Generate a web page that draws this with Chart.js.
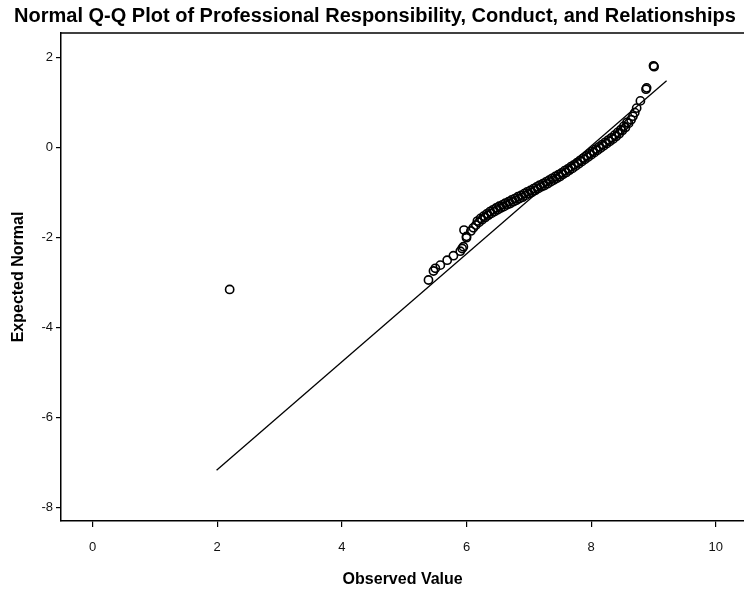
<!DOCTYPE html>
<html lang="en">
<head>
    <meta charset="UTF-8">
    <title>Normal Q-Q Plot</title>
    <script src="https://cdn.jsdelivr.net/npm/chart.js"></script>
    <style>
        body { margin: 0; background: white; overflow: hidden; }
        .grafica { width: 750px; height: 590px; }
    </style>
</head>
<body>
    <div class="grafica">
        <canvas id="myChart"></canvas>
    </div>
    <script>
        // datos
        const observed = [2.20,
            5.39, 5.47, 5.50, 5.58, 5.69, 5.79, 5.90, 5.93, 5.95, 5.96, 6.00, 6.00,
            6.07, 6.11, 6.15, 6.20, 6.25, 6.30, 6.35, 6.40, 6.45, 6.50, 6.55,
            6.60, 6.65, 6.70, 6.75, 6.80, 6.85, 6.90, 6.95, 7.00, 7.05, 7.10,
            7.15, 7.20, 7.25, 7.30, 7.35, 7.40, 7.45, 7.50, 7.55, 7.60, 7.65,
            7.70, 7.75, 7.80, 7.85, 7.90, 7.95, 8.00, 8.05, 8.10, 8.15, 8.20,
            8.25, 8.30, 8.35, 8.40, 8.45, 8.50, 8.55, 8.60, 8.64, 8.67, 8.70,
            8.73, 8.79, 8.88, 8.89, 9.00, 9.01];
        const expected = [-3.15,
            -2.94, -2.74, -2.68, -2.61, -2.50, -2.40, -2.30, -2.24, -2.20, -1.83, -2.00, -1.97,
            -1.85, -1.78, -1.72, -1.66, -1.60, -1.55, -1.50, -1.46, -1.42, -1.38, -1.34,
            -1.31, -1.27, -1.24, -1.20, -1.17, -1.13, -1.10, -1.06, -1.02, -0.99, -0.95,
            -0.91, -0.87, -0.84, -0.80, -0.76, -0.72, -0.68, -0.64, -0.59, -0.55, -0.50,
            -0.46, -0.41, -0.36, -0.31, -0.26, -0.21, -0.16, -0.11, -0.06, -0.01, 0.04,
            0.09, 0.14, 0.19, 0.25, 0.31, 0.38, 0.45, 0.54, 0.62, 0.70, 0.78,
            0.88, 1.04, 1.30, 1.33, 1.82, 1.80];

        // borde superior de la banda densa
        const observedUpper = [6.175, 6.225, 6.275, 6.325, 6.375, 6.425, 6.475, 6.525,
            6.575, 6.625, 6.675, 6.725, 6.775, 6.825, 6.875, 6.925, 6.975, 7.025,
            7.075, 7.125, 7.175, 7.225, 7.275, 7.325, 7.375, 7.425, 7.475, 7.525,
            7.575, 7.625, 7.675, 7.725, 7.775, 7.825, 7.875, 7.925, 7.975, 8.025,
            8.075, 8.125, 8.175, 8.225, 8.275, 8.325, 8.375, 8.425, 8.475, 8.525, 8.575];
        const expectedUpper = [-1.63, -1.57, -1.52, -1.47, -1.42, -1.38, -1.34, -1.30,
            -1.27, -1.23, -1.20, -1.16, -1.13, -1.09, -1.06, -1.02, -0.98, -0.95,
            -0.91, -0.87, -0.83, -0.80, -0.76, -0.72, -0.68, -0.64, -0.60, -0.56,
            -0.51, -0.47, -0.42, -0.38, -0.33, -0.28, -0.23, -0.18, -0.13, -0.08,
            -0.03, 0.02, 0.07, 0.12, 0.17, 0.22, 0.28, 0.34, 0.40, 0.48, 0.56];

        // recta de referencia (extremos)
        const lineX = [1.99, 9.21];
        const lineY = [-7.17, 1.49];

        const xTicks = [0, 2, 4, 6, 8, 10];
        const yTicks = [2, 0, -2, -4, -6, -8];

        const fuente = 'Liberation Sans, Arial, sans-serif';

        // linea superior del marco
        const bordeSuperior = {
            id: 'bordeSuperior',
            afterDraw(chart) {
                const {ctx, chartArea} = chart;
                ctx.save();
                ctx.strokeStyle = '#000';
                ctx.lineWidth = 1.5;
                ctx.beginPath();
                ctx.moveTo(chartArea.left, chartArea.top);
                ctx.lineTo(chartArea.right + 10, chartArea.top);
                ctx.stroke();
                ctx.restore();
            }
        };

        function confGrafica() {
            const puntos = observed.map((x, i) => ({x: x, y: expected[i]}))
                .concat(observedUpper.map((x, i) => ({x: x, y: expectedUpper[i]})));
            const recta = lineX.map((x, i) => ({x: x, y: lineY[i]}));
            return {
                type: 'scatter',
                data: {
                    datasets: [{
                        label: 'Observed',
                        data: puntos,
                        pointStyle: 'circle',
                        pointRadius: 4.1,
                        pointBorderWidth: 1.6,
                        borderColor: '#000',
                        backgroundColor: 'rgba(0,0,0,0)'
                    }, {
                        type: 'line',
                        label: 'Reference',
                        data: recta,
                        borderColor: '#000',
                        borderWidth: 1.3,
                        pointRadius: 0,
                        fill: false
                    }]
                },
                options: {
                    responsive: true,
                    maintainAspectRatio: false,
                    animation: false,
                    layout: { padding: 0 },
                    plugins: {
                        legend: { display: false },
                        tooltip: { enabled: false },
                        title: {
                            display: true,
                            text: 'Normal Q-Q Plot of Professional Responsibility, Conduct, and Relationships',
                            color: '#000',
                            font: { family: fuente, size: 20, weight: 'bold' },
                            padding: { top: 4, bottom: 5 }
                        }
                    },
                    scales: {
                        x: {
                            type: 'linear',
                            min: -0.506,
                            max: 10.457,
                            afterBuildTicks: (axis) => { axis.ticks = xTicks.map(v => ({value: v})); },
                            afterFit: (s) => { s.height = 69; },
                            border: { display: true, color: '#000', width: 1.5 },
                            grid: { drawOnChartArea: false, drawTicks: true, tickLength: 6, color: '#000', lineWidth: 1.2 },
                            ticks: { color: '#111', font: { family: fuente, size: 13 }, padding: 13 },
                            title: {
                                display: true,
                                text: 'Observed Value',
                                color: '#000',
                                font: { family: fuente, size: 16, weight: 'bold' },
                                padding: { top: 0, bottom: 1 }
                            }
                        },
                        y: {
                            type: 'linear',
                            min: -8.296,
                            max: 2.549,
                            afterBuildTicks: (axis) => { axis.ticks = yTicks.map(v => ({value: v})); },
                            afterFit: (s) => { s.width = 61; },
                            border: { display: true, color: '#000', width: 1.5 },
                            grid: { drawOnChartArea: false, drawTicks: true, tickLength: 5, color: '#000', lineWidth: 1.2 },
                            ticks: { color: '#111', font: { family: fuente, size: 13 }, padding: 3 },
                            title: {
                                display: true,
                                text: 'Expected Normal',
                                color: '#000',
                                font: { family: fuente, size: 16, weight: 'bold' },
                                padding: { top: 9, bottom: 0 }
                            }
                        }
                    }
                },
                plugins: [bordeSuperior]
            };
        }

        function renderGrafica() {
            const chartDOM = document.getElementById('myChart');
            new Chart(chartDOM, confGrafica());
        }
        renderGrafica();
    </script>
</body>
</html>
